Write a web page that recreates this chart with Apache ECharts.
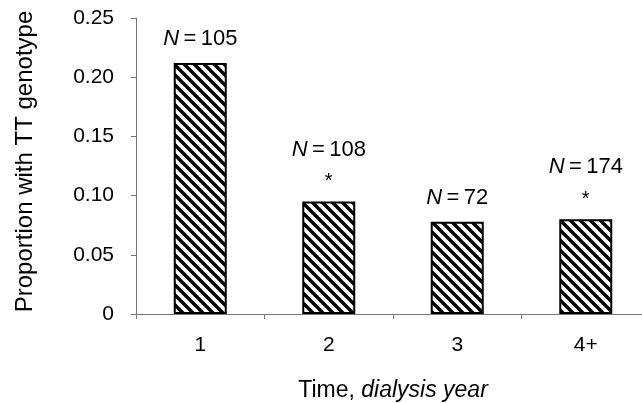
<!DOCTYPE html>
<html>
<head>
<meta charset="utf-8">
<script src="https://cdn.jsdelivr.net/npm/echarts@6/dist/echarts.min.js"></script>
<style>
html,body{margin:0;padding:0;background:#fff;}
#chart{width:642px;height:403px;}
</style>
</head>
<body>
<div id="chart"></div>
<script>
var categories = ['1', '2', '3', '4+'];
var proportions = [0.212, 0.095, 0.078, 0.080];
var sampleSizes = [105, 108, 72, 174];
var significant = [false, true, false, true];
var yTicks = ['0', '0.05', '0.10', '0.15', '0.20', '0.25'];

function makeHatch() {
  var c = document.createElement('canvas');
  var s = 10;
  c.width = s; c.height = s;
  var ctx = c.getContext('2d');
  ctx.fillStyle = '#fff';
  ctx.fillRect(0, 0, s, s);
  ctx.strokeStyle = '#000';
  ctx.lineWidth = 3.4;
  ctx.beginPath();
  ctx.moveTo(-s, 0); ctx.lineTo(s, 2 * s);
  ctx.moveTo(0, -s); ctx.lineTo(2 * s, s);
  ctx.moveTo(-1, -1); ctx.lineTo(s + 1, s + 1);
  ctx.stroke();
  return c;
}

var chart = echarts.init(document.getElementById('chart'), null, {renderer: 'canvas'});
var font = '"Liberation Sans", Arial, Helvetica, sans-serif';

var option = {
  animation: false,
  backgroundColor: '#fff',
  grid: {left: 136, top: 18, width: 514, bottom: 89, containLabel: false, outerBoundsMode: 'none'},
  xAxis: {
    type: 'category',
    data: categories,
    boundaryGap: true,
    name: 'Time, {i|dialysis year}',
    nameLocation: 'middle',
    nameGap: 65,
    nameTextStyle: {
      fontFamily: font, fontSize: 23, color: '#000',
      rich: {i: {fontFamily: font, fontSize: 23, fontStyle: 'italic', color: '#000'}}
    },
    axisLine: {show: true, lineStyle: {color: '#777', width: 1}},
    axisTick: {show: true, alignWithLabel: false, length: 5, lineStyle: {color: '#777'}},
    axisLabel: {fontFamily: font, fontSize: 21, color: '#000', margin: 21}
  },
  yAxis: {
    type: 'value',
    min: 0,
    max: 0.25,
    interval: 0.05,
    name: 'Proportion with TT genotype',
    nameLocation: 'middle',
    nameGap: 99,
    nameTextStyle: {fontFamily: font, fontSize: 24, color: '#000', padding: [0, 0, 0, 9]},
    axisLine: {show: true, lineStyle: {color: '#777', width: 1}},
    axisTick: {show: true, length: 5, lineStyle: {color: '#777'}},
    splitLine: {show: false},
    axisLabel: {
      fontFamily: font, fontSize: 21, color: '#000', margin: 22,
      formatter: function (v) {
        var i = Math.round(v / 0.05);
        return yTicks[i] !== undefined ? yTicks[i] : String(v);
      }
    }
  },
  series: [{
    type: 'bar',
    data: proportions,
    barWidth: 53,
    itemStyle: {
      color: {image: makeHatch(), repeat: 'repeat'},
      borderColor: '#000',
      borderWidth: 2
    },
    label: {
      show: true,
      position: 'top',
      distance: 10,
      fontFamily: font,
      color: '#000',
      formatter: function (p) {
        var i = p.dataIndex;
        if (significant[i]) {
          return '{n2|N}{e2|\u2009=\u2009' + sampleSizes[i] + '}\n{a|*}';
        }
        return '{n1|N}{e1|\u2009=\u2009' + sampleSizes[i] + '}';
      },
      rich: {
        n1: {fontFamily: font, fontSize: 22, fontStyle: 'italic', color: '#000', lineHeight: 28},
        e1: {fontFamily: font, fontSize: 22, color: '#000', lineHeight: 28},
        n2: {fontFamily: font, fontSize: 22, fontStyle: 'italic', color: '#000', lineHeight: 32},
        e2: {fontFamily: font, fontSize: 22, color: '#000', lineHeight: 32},
        a: {fontFamily: font, fontSize: 20, color: '#000', lineHeight: 26, padding: [6, 0, 0, 0]}
      }
    }
  }]
};
chart.setOption(option);
</script>
</body>
</html>
